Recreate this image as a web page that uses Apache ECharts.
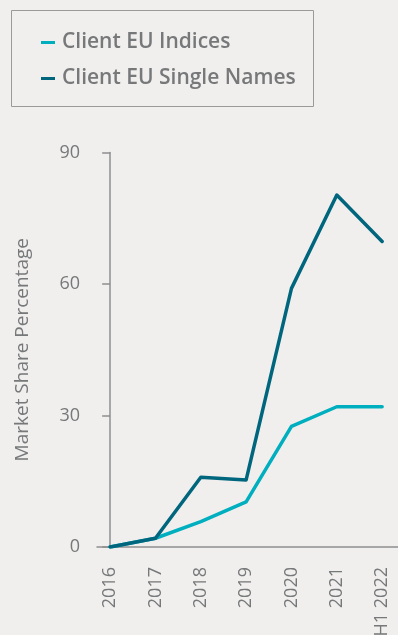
<!DOCTYPE html>
<html>
<head>
<meta charset="utf-8">
<script src="https://cdn.jsdelivr.net/npm/echarts@6/dist/echarts.min.js"></script>
<style>
  html, body { margin: 0; padding: 0; background: #f0efed; }
  #chart { width: 398px; height: 635px; }
</style>
</head>
<body>
<div id="chart"></div>
<script>
// Market share by period
const categories = ['2016', '2017', '2018', '2019', '2020', '2021', 'H1 2022'];
const indices = [0, 2, 5.8, 10.3, 27.5, 32, 32];
const singleNames = [0, 2, 15.9, 15.3, 59, 80.3, 69.7];
const yTicks = [0, 30, 60, 90];

const textGray = '#76787a';
const axisGray = '#8e8f90';
const font = '"Open Sans"';

const toPoints = arr => arr.map((v, i) => [i, v]);

const chart = echarts.init(document.getElementById('chart'), null, { renderer: 'canvas' });
chart.setOption({
  backgroundColor: '#f0efed',
  animation: false,
  textStyle: { fontFamily: font },
  graphic: [{
    type: 'rect',
    shape: { x: 11.5, y: 10.5, width: 302, height: 96 },
    style: { fill: 'none', stroke: '#9a9a9a', lineWidth: 1 },
    silent: true
  }],
  legend: {
    left: 36, top: 27,
    orient: 'vertical',
    itemGap: 15,
    icon: 'rect',
    itemWidth: 14, itemHeight: 3,
    textStyle: { color: textGray, fontSize: 21, fontWeight: 600, fontFamily: font, padding: [0, 0, 0, 2] },
    data: ['Client EU Indices', 'Client EU Single Names']
  },
  grid: { left: 97, right: 0, top: 152.5, bottom: 88, containLabel: false, outerBoundsMode: 'none' },
  xAxis: {
    type: 'value',
    min: -0.29, max: 6.35,
    splitLine: { show: false },
    axisLine: { show: true, onZero: false, lineStyle: { color: axisGray, width: 1.5 } },
    axisTick: { show: false },
    axisLabel: {
      customValues: categories.map((c, i) => i),
      formatter: v => categories[v],
      rotate: 90,
      margin: 20,
      hideOverlap: false,
      color: textGray, fontSize: 18, fontFamily: font,
      padding: [12, 0, 0, 0]
    }
  },
  yAxis: {
    type: 'value',
    min: 0, max: 90, interval: 30,
    name: 'Market Share Percentage',
    nameLocation: 'middle',
    nameGap: 65,
    nameTextStyle: { color: textGray, fontSize: 19, fontFamily: font },
    splitLine: { show: false },
    axisLine: { show: true, lineStyle: { color: axisGray, width: 1.5 } },
    axisTick: { show: true, length: 8, lineStyle: { color: axisGray, width: 1.5 } },
    axisLabel: {
      margin: 17, color: textGray, fontSize: 18, fontFamily: font,
      formatter: v => yTicks.includes(v) ? String(v) : ''
    }
  },
  series: [
    {
      name: 'Client EU Indices', type: 'line',
      data: toPoints(indices),
      showSymbol: false, symbol: 'none',
      lineStyle: { color: '#00afbf', width: 3.5, cap: 'round', join: 'round' },
      itemStyle: { color: '#00afbf' },
      z: 2
    },
    {
      name: 'Client EU Single Names', type: 'line',
      data: toPoints(singleNames),
      showSymbol: false, symbol: 'none',
      lineStyle: { color: '#00667e', width: 3.5, cap: 'round', join: 'round' },
      itemStyle: { color: '#00667e' },
      z: 3
    }
  ]
});
</script>
</body>
</html>
